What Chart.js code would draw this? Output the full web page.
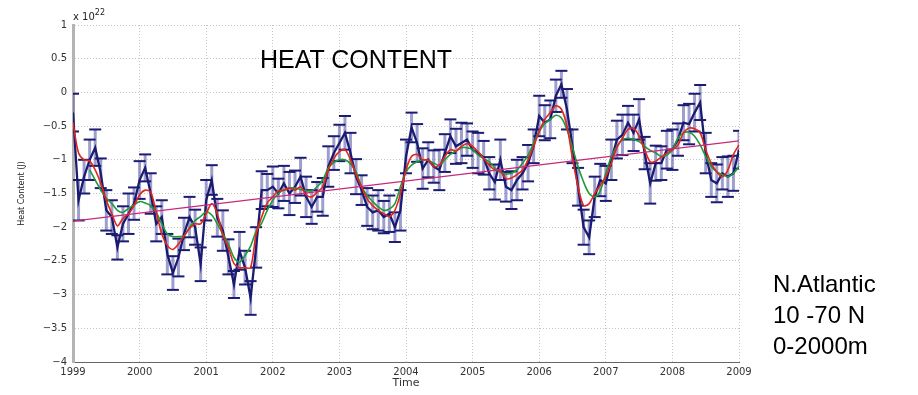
<!DOCTYPE html>
<html><head><meta charset="utf-8">
<script src="https://cdn.jsdelivr.net/npm/chart.js@4.4.1/dist/chart.umd.min.js"></script>
<style>
html,body{margin:0;padding:0;background:#fff;}
#wrap{position:relative;width:918px;height:395px;overflow:hidden;background:#fff;}
#c{position:absolute;left:0;top:0;}
.t{position:absolute;white-space:nowrap;color:#000;font-family:"Liberation Sans",Arial,sans-serif;}
</style></head><body>
<div id="wrap">
<canvas id="c" width="918" height="395"></canvas>
<div class="t" style="left:260px;top:47px;font-size:25px;line-height:25px;">HEAT CONTENT</div>
<div class="t" style="left:773px;top:268px;font-size:24px;line-height:31px;">N.Atlantic<br>10 -70 N<br>0-2000m</div>
<div class="t" style="left:73px;top:11px;font-family:'DejaVu Sans';font-size:10px;line-height:12px;color:#222;">x 10<span style="font-size:8px;position:relative;top:-5px;">22</span></div>
</div>
<script>
const startYear = 1999;
const yearTicks = [1999,2000,2001,2002,2003,2004,2005,2006,2007,2008,2009];
const yTicks = [-4,-3.5,-3,-2.5,-2,-1.5,-1,-0.5,0,0.5,1];

// monthly heat content (x 10^22 J), Jan 1999 .. Jan 2009
const heat = [
-0.3,-1.6,-1.25,-1.0,-0.82,-1.2,-1.75,-1.85,-2.3,-1.95,-1.8,-1.65,
-1.3,-1.12,-1.5,-1.95,-1.85,-2.4,-2.68,-2.45,-2.1,-1.85,-2.0,-2.55,
-1.6,-1.3,-1.86,-2.05,-2.44,-2.85,-2.35,-2.6,-3.05,-2.3,-1.45,-1.45,
-1.4,-1.5,-1.35,-1.5,-1.4,-1.25,-1.55,-1.7,-1.55,-1.55,-1.1,-0.9,
-0.75,-0.6,-0.9,-1.25,-1.45,-1.7,-1.78,-1.75,-1.85,-1.8,-2.0,-1.75,
-0.95,-0.52,-0.75,-1.13,-1.0,-1.1,-1.15,-0.9,-0.65,-0.8,-0.75,-0.7,
-0.85,-0.9,-0.97,-1.2,-1.33,-1.0,-1.4,-1.45,-1.3,-1.2,-1.05,-0.8,
-0.35,-0.45,-0.4,-0.05,0.12,-0.25,-0.8,-1.4,-2.0,-2.15,-1.55,-1.3,
-1.35,-1.0,-0.7,-0.63,-0.45,-0.6,-0.4,-0.9,-1.35,-1.05,-1.05,-0.85,
-0.85,-0.7,-0.45,-0.47,-0.3,-0.15,-0.9,-1.3,-1.35,-1.2,-1.25,-1.2,
-0.85];

// error bar half-lengths
const errs = [
0.28,0.3,0.25,0.3,0.27,0.22,0.3,0.25,0.18,0.26,0.3,0.24,
0.28,0.2,0.3,0.26,0.25,0.3,0.25,0.28,0.24,0.3,0.26,0.25,
0.3,0.22,0.28,0.3,0.26,0.2,0.28,0.25,0.25,0.3,0.28,0.24,
0.3,0.22,0.26,0.32,0.24,0.28,0.3,0.25,0.22,0.28,0.3,0.25,
0.27,0.25,0.3,0.26,0.22,0.28,0.25,0.3,0.24,0.27,0.22,0.3,
0.25,0.22,0.28,0.3,0.26,0.24,0.3,0.28,0.25,0.26,0.3,0.24,
0.27,0.3,0.25,0.24,0.26,0.3,0.22,0.28,0.3,0.24,0.27,0.25,
0.3,0.26,0.28,0.24,0.2,0.3,0.25,0.28,0.26,0.25,0.3,0.24,
0.26,0.3,0.28,0.3,0.25,0.27,0.3,0.24,0.3,0.26,0.25,0.28,
0.3,0.24,0.26,0.3,0.28,0.26,0.3,0.25,0.28,0.24,0.3,0.26,
0.28];

// red smoothed curve
const smoothRed = [
-0.45,-0.9,-1.0,-1.02,-1.15,-1.35,-1.6,-1.8,-1.98,-1.87,-1.8,-1.68,
-1.52,-1.45,-1.48,-1.78,-2.1,-2.27,-2.33,-2.25,-2.13,-2.02,-1.95,-1.95,
-1.8,-1.65,-1.8,-2.12,-2.3,-2.54,-2.6,-2.6,-2.6,-2.1,-1.85,-1.64,
-1.55,-1.46,-1.45,-1.42,-1.45,-1.4,-1.52,-1.55,-1.48,-1.4,-1.15,-0.98,
-0.88,-0.85,-1.0,-1.22,-1.4,-1.58,-1.68,-1.75,-1.8,-1.84,-1.75,-1.5,
-1.15,-0.95,-0.92,-1.0,-1.0,-1.1,-1.08,-0.95,-0.85,-0.87,-0.8,-0.76,
-0.8,-0.88,-0.98,-1.08,-1.15,-1.17,-1.28,-1.27,-1.22,-1.15,-1.0,-0.8,
-0.58,-0.4,-0.3,-0.2,-0.25,-0.5,-0.98,-1.4,-1.68,-1.65,-1.5,-1.38,
-1.25,-1.05,-0.82,-0.68,-0.55,-0.53,-0.65,-0.85,-1.03,-1.02,-0.96,-0.9,
-0.85,-0.78,-0.6,-0.53,-0.54,-0.6,-0.85,-1.05,-1.18,-1.25,-1.15,-0.92,
-0.78];

// green smoothed curve (starts in spring 1999)
const smoothGreen = [
null,null,null,-1.15,-1.3,-1.45,-1.57,-1.65,-1.75,-1.78,-1.72,-1.67,
-1.62,-1.64,-1.68,-1.78,-1.95,-2.1,-2.14,-2.14,-2.13,-2.0,-1.9,-1.84,
-1.77,-1.82,-1.95,-2.1,-2.25,-2.45,-2.52,-2.42,-2.28,-2.06,-1.94,-1.75,
-1.6,-1.5,-1.45,-1.42,-1.42,-1.44,-1.46,-1.46,-1.4,-1.3,-1.12,-1.04,
-1.0,-1.0,-1.06,-1.18,-1.4,-1.53,-1.62,-1.7,-1.75,-1.73,-1.65,-1.4,
-1.18,-1.08,-1.03,-1.0,-1.01,-1.05,-1.08,-1.0,-0.92,-0.87,-0.82,-0.82,
-0.85,-0.93,-0.98,-1.03,-1.12,-1.18,-1.21,-1.2,-1.15,-1.05,-0.93,-0.75,
-0.58,-0.46,-0.4,-0.34,-0.38,-0.55,-0.82,-1.1,-1.33,-1.5,-1.55,-1.46,
-1.2,-0.95,-0.8,-0.7,-0.68,-0.7,-0.73,-0.8,-0.86,-0.9,-0.95,-0.93,
-0.85,-0.68,-0.6,-0.59,-0.65,-0.78,-0.95,-1.1,-1.18,-1.22,-1.25,-1.2,
-1.1];

// linear trend
const trendYears = [1999, 2009];
const trendValues = [-1.91, -0.72];

const times = heat.map((_, i) => startYear + i / 12);
const pts = arr => arr.map((v, i) => ({x: times[i], y: v}));
const stems = [];
heat.forEach((v, i) => {
  stems.push({x: times[i], y: v - errs[i]}, {x: times[i], y: v + errs[i]}, {x: times[i], y: null});
});
const capsLow = heat.map((v, i) => ({x: times[i], y: v - errs[i]}));
const capsHigh = heat.map((v, i) => ({x: times[i], y: v + errs[i]}));

const tickFont = {family: 'DejaVu Sans', size: 10};
const navy = '#1b1b72';

new Chart(document.getElementById('c'), {
  type: 'line',
  data: {
    datasets: [
      {data: trendYears.map((t, i) => ({x: t, y: trendValues[i]})), borderColor: '#c8287a', borderWidth: 1.2, pointRadius: 0, order: 0},
      {data: pts(smoothRed), borderColor: '#e2261c', borderWidth: 1.6, pointRadius: 0, tension: 0.3, order: 1},
      {data: pts(smoothGreen), borderColor: '#1f9a3a', borderWidth: 1.6, pointRadius: 0, tension: 0.3, order: 2},
      {data: capsHigh, showLine: false, pointStyle: 'line', pointRadius: 6, pointBorderWidth: 2, pointBorderColor: navy, borderColor: navy, order: 3},
      {data: capsLow, showLine: false, pointStyle: 'line', pointRadius: 6, pointBorderWidth: 2, pointBorderColor: navy, borderColor: navy, order: 3},
      {data: pts(heat), borderColor: navy, borderWidth: 2.3, pointRadius: 0, tension: 0, order: 4},
      {data: stems, borderColor: 'rgba(95,95,175,0.6)', borderWidth: 3, pointRadius: 0, spanGaps: false, order: 5}
    ]
  },
  options: {
    responsive: false,
    animation: false,
    events: [],
    layout: {padding: {top: 25, right: 179, bottom: 0, left: 0}},
    plugins: {legend: {display: false}, tooltip: {enabled: false}},
    scales: {
      x: {
        type: 'linear', min: 1999, max: 2009,
        afterBuildTicks: s => { s.ticks = yearTicks.map(v => ({value: v})); },
        afterFit: s => { s.height = 33; },
        grid: {color: '#c4c4c4', lineWidth: 1, drawTicks: false},
        border: {display: true, color: '#666', width: 1, dash: [1, 2]},
        ticks: {padding: 4, font: tickFont, color: '#333', maxRotation: 0, autoSkip: false, callback: v => String(v)},
        title: {display: true, text: 'Time', font: {family: 'DejaVu Sans', size: 11}, color: '#333', padding: {top: 0, bottom: 5}}
      },
      y: {
        min: -4, max: 1,
        afterBuildTicks: s => { s.ticks = yTicks.map(v => ({value: v})); },
        afterFit: s => { s.width = 73; },
        grid: {color: '#c4c4c4', lineWidth: 1, drawTicks: false},
        border: {display: true, color: '#b4b4b4', width: 3, dash: [1, 2]},
        ticks: {padding: 6, font: tickFont, color: '#333', callback: v => v === 0 ? '0' : (v < 0 ? '\u2212' : '') + Math.abs(v)},
        title: {display: true, text: 'Heat Content (J)', font: {family: 'DejaVu Sans', size: 8}, color: '#222', padding: {top: 17, bottom: 0}}
      }
    }
  }
});
</script>
</body></html>
